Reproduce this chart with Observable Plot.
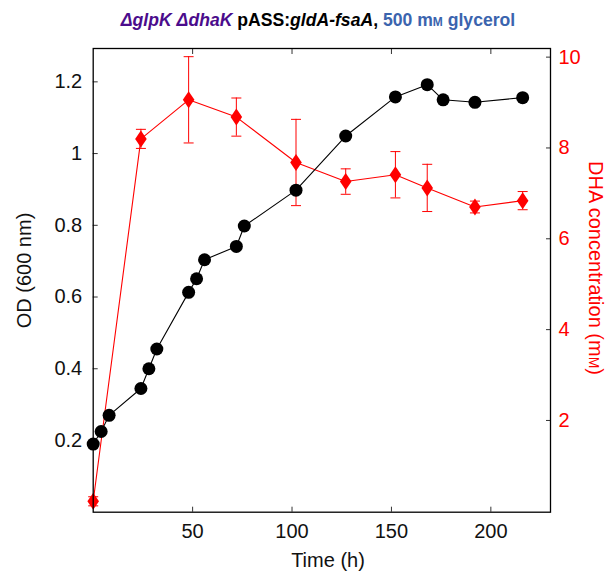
<!DOCTYPE html>
<html><head><meta charset="utf-8">
<script src="https://cdn.jsdelivr.net/npm/d3@7"></script>
<script src="https://cdn.jsdelivr.net/npm/@observablehq/plot@0.6"></script>
<style>
body{margin:0;background:#fff}
svg{font-family:"Liberation Sans",Arial,sans-serif}
</style>
</head><body><div id="chart"></div>
<script>
// OD (600 nm) growth curve
const odTime  = [0, 4, 8, 24, 28, 32, 48, 52, 56, 72, 76, 102, 127, 152, 168, 176, 192, 216];
const odValue = [0.19, 0.225, 0.27, 0.345, 0.40, 0.455, 0.613, 0.651, 0.704, 0.741, 0.798, 0.898, 1.049, 1.158, 1.192, 1.150, 1.143, 1.156];
// DHA concentration (mM)
const dhaTime  = [0, 24, 48, 72, 102, 127, 152, 168, 192, 216];
const dhaValue = [0.22, 8.20, 9.06, 8.68, 7.68, 7.26, 7.41, 7.12, 6.70, 6.84];
const dhaError = [0.10, 0.21, 0.95, 0.42, 0.95, 0.28, 0.51, 0.52, 0.13, 0.20];
// ticks
const xTicks = [50, 100, 150, 200];
const odTicks = [0.2, 0.4, 0.6, 0.8, 1, 1.2];
const dhaTicks = [2, 4, 6, 8, 10];
const xDomain = [0, 230];
const odDomain = [0, 1.293];
const dhaDomain = [-0.02, 10.19];

const toY = d3.scaleLinear(dhaDomain, odDomain);
const odIdx = d3.range(odTime.length);
const dhaIdx = d3.range(dhaTime.length);

const diamond = {draw(ctx) { ctx.moveTo(0, -8.5); ctx.lineTo(5.8, 0); ctx.lineTo(0, 8.5); ctx.lineTo(-5.8, 0); ctx.closePath(); }};
const capLine = {draw(ctx) { ctx.moveTo(-5, 0); ctx.lineTo(5, 0); }};
const fs = 20;

const svg = Plot.plot({
  width: 608, height: 573,
  marginLeft: 92.7, marginRight: 58, marginTop: 48, marginBottom: 61.3,
  style: {fontFamily: '"Liberation Sans", Arial, sans-serif', background: "#fff"},
  x: {domain: xDomain},
  y: {domain: odDomain},
  marks: [
    Plot.axisX(xTicks, {anchor: "bottom", tickSize: 0, tickPadding: 12, fontSize: fs, fill: "#111", label: null}),
    Plot.axisX(xTicks, {anchor: "bottom", tickSize: -5, tickFormat: () => "", label: null, stroke: "#333"}),
    Plot.axisX(xTicks, {anchor: "top", tickSize: -5, tickFormat: () => "", label: null, stroke: "#333"}),
    Plot.axisY(odTicks, {anchor: "left", tickSize: 0, tickPadding: 11, fontSize: fs, fill: "#111", label: null, tickFormat: d => String(d)}),
    Plot.axisY(odTicks, {anchor: "left", tickSize: -5, tickFormat: () => "", label: null, stroke: "#333"}),
    Plot.axisY(dhaTicks.map(d => toY(d)), {anchor: "right", tickSize: 0, tickPadding: 8, fontSize: fs, fill: "red", label: null, tickFormat: d => String(Math.round(toY.invert(d)))}),
    Plot.axisY(dhaTicks.map(d => toY(d)), {anchor: "right", tickSize: -5, tickFormat: () => "", label: null, stroke: "#333"}),
    // DHA series
    Plot.ruleX(dhaIdx, {x: i => dhaTime[i], y1: i => toY(dhaValue[i] - dhaError[i]), y2: i => toY(dhaValue[i] + dhaError[i]), stroke: "red", strokeWidth: 1}),
    Plot.dot(dhaIdx, {x: i => dhaTime[i], y: i => toY(dhaValue[i] + dhaError[i]), symbol: capLine, stroke: "red", fill: "none", strokeWidth: 1}),
    Plot.dot(dhaIdx, {x: i => dhaTime[i], y: i => toY(dhaValue[i] - dhaError[i]), symbol: capLine, stroke: "red", fill: "none", strokeWidth: 1}),
    Plot.line(dhaIdx, {x: i => dhaTime[i], y: i => toY(dhaValue[i]), stroke: "red", strokeWidth: 1.1}),
    Plot.dot(dhaIdx, {x: i => dhaTime[i], y: i => toY(dhaValue[i]), symbol: diamond, fill: "red", stroke: "none"}),
    // OD series
    Plot.line(odIdx, {x: i => odTime[i], y: i => odValue[i], stroke: "black", strokeWidth: 1.1}),
    Plot.dot(odIdx, {x: i => odTime[i], y: i => odValue[i], r: 6.5, fill: "black", stroke: "none"}),
    Plot.frame({stroke: "black", strokeWidth: 1.3})
  ]
});
document.getElementById("chart").appendChild(svg);

const s = d3.select(svg);
// Title
const t = s.append("text").attr("x", 318).attr("y", 26).attr("text-anchor", "middle")
  .attr("font-size", 17.6).attr("font-weight", "bold");
t.append("tspan").attr("fill", "#4b0c8c").attr("font-style", "italic").text("ΔglpK ΔdhaK");
t.append("tspan").attr("fill", "#000").text(" pASS:");
t.append("tspan").attr("fill", "#000").attr("font-style", "italic").text("gldA-fsaA");
t.append("tspan").attr("fill", "#000").text(", ");
t.append("tspan").attr("fill", "#3b64ae").text("500 m");
t.append("tspan").attr("fill", "#3b64ae").style("font-variant", "small-caps").text("m");
t.append("tspan").attr("fill", "#3b64ae").text(" glycerol");
// Axis titles
s.append("text").attr("transform", "translate(31,270.5) rotate(-90)").attr("text-anchor", "middle")
  .attr("font-size", fs).attr("fill", "#111").text("OD (600 nm)");
s.append("text").attr("x", 328).attr("y", 567).attr("text-anchor", "middle")
  .attr("font-size", fs).attr("fill", "#111").text("Time (h)");
const r = s.append("text").attr("transform", "translate(589,268) rotate(90)").attr("text-anchor", "middle")
  .attr("font-size", fs).attr("fill", "red");
r.append("tspan").text("DHA concentration (m");
r.append("tspan").style("font-variant", "small-caps").text("m");
r.append("tspan").text(")");
</script>
</body></html>
